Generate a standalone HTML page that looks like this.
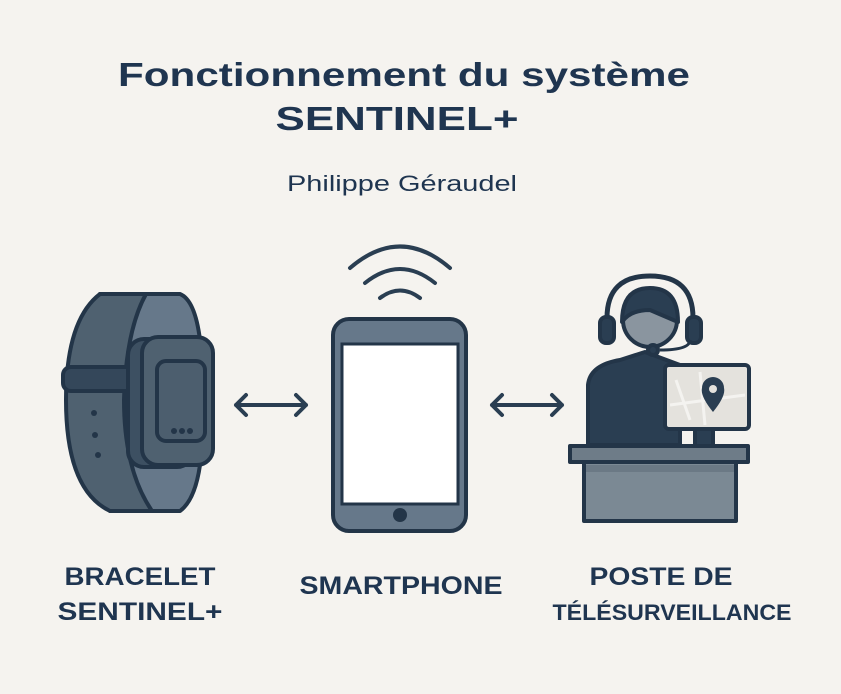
<!DOCTYPE html>
<html><head><meta charset="utf-8"><style>
html,body{margin:0;padding:0;background:#f5f3ef;}
svg{display:block}
</style></head><body>
<svg width="841" height="694" viewBox="0 0 841 694" xmlns="http://www.w3.org/2000/svg">
<rect width="841" height="694" fill="#f5f3ef"/>
<g font-family="Liberation Sans, sans-serif" fill="#1f3550" text-anchor="middle">
<text x="404" y="86" font-size="33" font-weight="bold" textLength="572" lengthAdjust="spacingAndGlyphs">Fonctionnement du système</text>
<text x="397" y="130" font-size="33" font-weight="bold" textLength="243" lengthAdjust="spacingAndGlyphs">SENTINEL+</text>
<text x="402" y="191" font-size="22" textLength="230" lengthAdjust="spacingAndGlyphs">Philippe Géraudel</text>
<text x="140" y="585" font-size="25" font-weight="bold" textLength="151" lengthAdjust="spacingAndGlyphs">BRACELET</text>
<text x="140" y="620" font-size="25" font-weight="bold" textLength="165" lengthAdjust="spacingAndGlyphs">SENTINEL+</text>
<text x="401" y="594" font-size="25" font-weight="bold" textLength="203" lengthAdjust="spacingAndGlyphs">SMARTPHONE</text>
<text x="661" y="585" font-size="25" font-weight="bold" textLength="143" lengthAdjust="spacingAndGlyphs">POSTE DE</text>
<text x="672" y="620" font-size="22.5" font-weight="bold" textLength="239" lengthAdjust="spacingAndGlyphs">TÉLÉSURVEILLANCE</text>
</g>
<g stroke="#233548" stroke-width="4" stroke-linejoin="round" stroke-linecap="round">
<path d="M100 294 L180 294 Q195 300 200 340 L200 465 Q195 500 180 511 L110 511 Z" fill="#66788a"/>
<path d="M100 294 Q66 320 66 400 Q66 490 110 511 L152 511 Q124 470 124 400 Q126 330 146 294 Z" fill="#4f6170"/>
<rect x="63" y="367" width="72" height="24" rx="8" fill="#34475a"/>
<rect x="128" y="339" width="65" height="128" rx="16" fill="#3d5062"/>
<rect x="142" y="337" width="71" height="128" rx="16" fill="#4f6170"/>
<rect x="157" y="361" width="48" height="80" rx="9" fill="#4c5e6e"/>
</g>
<g fill="#233548"><circle cx="94" cy="413" r="3"/><circle cx="95" cy="435" r="3"/><circle cx="98" cy="455" r="3"/>
<circle cx="174" cy="431" r="3"/><circle cx="182" cy="431" r="3"/><circle cx="190" cy="431" r="3"/></g>
<g stroke="#2a3e52" stroke-width="4" fill="none" stroke-linecap="round" stroke-linejoin="round">
<path d="M236 405 H306 M246 395 L236 405 L246 415 M296 395 L306 405 L296 415"/>
<path d="M492 405 H562 M502 395 L492 405 L502 415 M552 395 L562 405 L552 415"/>
<path d="M350 268 Q400 225 450 268"/>
<path d="M365 283 Q400 255 435 283"/>
<path d="M380 298 Q400 283 420 298"/>
</g>
<rect x="333" y="319" width="133" height="212" rx="16" fill="#66788a" stroke="#233548" stroke-width="4"/>
<rect x="342" y="344" width="116" height="160" fill="#fff" stroke="#233548" stroke-width="3"/>
<circle cx="400" cy="515" r="7" fill="#233548"/>
<g stroke="#233548" stroke-width="4" stroke-linejoin="round">
<path d="M588 445 L588 385 Q590 365 620 360 L645 352 L680 365 L680 445Z" fill="#2a3e52"/>
<circle cx="650" cy="320" r="27" fill="#8a959f"/>
<path d="M622 322 Q622 288 650 288 Q678 288 678 322 L650 310 Q630 310 622 322Z" fill="#2a3e52"/>
<path d="M607 318 Q607 276 650 276 Q693 276 693 318" fill="none" stroke-width="5"/>
<rect x="600" y="317" width="14" height="26" rx="6" fill="#2a3e52"/>
<rect x="687" y="317" width="14" height="26" rx="6" fill="#2a3e52"/>
<path d="M690 340 Q690 350 660 350" fill="none" stroke-width="3"/>
<circle cx="653" cy="350" r="5" fill="#2a3e52"/>
<rect x="695" y="425" width="18" height="24" fill="#2a3e52"/>
<rect x="665" y="365" width="84" height="64" rx="4" fill="#e4e2dd"/>
<rect x="570" y="446" width="178" height="16" fill="#6e7c88"/>
<rect x="584" y="462" width="152" height="59" fill="#7b8994"/>
</g>
<path d="M676 380 L690 420 M670 405 L745 395 M700 372 L705 425" stroke="#f4f3f0" stroke-width="3" fill="none"/>
<path d="M713 412 Q700 396 702 388 A11 11 0 0 1 724 388 Q726 396 713 412Z" fill="#2a3e52"/>
<circle cx="713" cy="389" r="4" fill="#e4e2dd"/>
<rect x="586" y="465" width="148" height="7" fill="#6b7985"/>
</svg>
</body></html>
